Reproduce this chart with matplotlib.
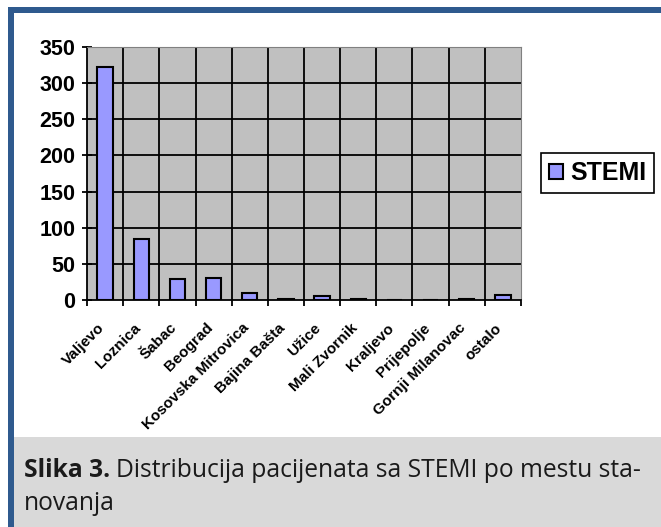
import matplotlib
matplotlib.use("Agg")
import matplotlib.pyplot as plt
from matplotlib.patches import Rectangle
from matplotlib.transforms import ScaledTranslation
import numpy as np

# data
mesta = ['Valjevo', 'Loznica', 'Šabac', 'Beograd', 'Kosovska Mitrovica', 'Bajina Bašta',
         'Užice', 'Mali Zvornik', 'Kraljevo', 'Prijepolje', 'Gornji Milanovac', 'ostalo']
stemi = [322, 84, 29, 31, 10, 2, 5, 2, 0, 0, 2, 7]
yTicks = [0, 50, 100, 150, 200, 250, 300, 350]

W, H = 661, 527
fig = plt.figure(figsize=(W / 100, H / 100), dpi=100)

# frame and caption area
blue = '#2F5A8E'
fig.patches.append(Rectangle((14 / W, 0), 1, 90 / H, transform=fig.transFigure,
                             facecolor='#D9D9D9', edgecolor='none', zorder=0))
fig.patches.append(Rectangle((8 / W, 1 - 13 / H), 1, 6 / H, transform=fig.transFigure,
                             facecolor=blue, edgecolor='none', zorder=1))
fig.patches.append(Rectangle((8 / W, 0), 6 / W, 1 - 7 / H, transform=fig.transFigure,
                             facecolor=blue, edgecolor='none', zorder=1))

ax = fig.add_axes([87 / W, 1 - 300 / H, 434 / W, 253 / H])
ax.set_facecolor('#C0C0C0')
x = np.arange(len(mesta))
ax.bar(x, stemi, width=0.42, color='#9999FF', edgecolor='black', linewidth=1.5,
       zorder=3, label='STEMI')
ax.set_xlim(-0.5, len(mesta) - 0.5)
ax.set_ylim(0, 350)

# grid lines at category boundaries and every 50
for b in np.arange(0.5, len(mesta) - 0.5):
    ax.axvline(b, color='black', linewidth=1.3, zorder=1)
for yv in yTicks[1:]:
    ax.axhline(yv, color='black', linewidth=1.3, zorder=1)

ax.set_yticks(yTicks)
ax.set_yticklabels([str(v) for v in yTicks], fontsize=15.5, fontweight='bold',
                   family='Liberation Sans')
ax.tick_params(axis='y', length=7, width=1.3, direction='inout', pad=5)
ax.set_xticks(np.arange(-0.5, len(mesta)), minor=False)
ax.set_xticklabels([])
ax.tick_params(axis='x', length=4, width=1.3)
ax.set_xticks(x, minor=True)
ax.set_xticklabels(mesta, minor=True, rotation=45, ha='right', rotation_mode='anchor',
                   fontsize=11, fontweight='bold', family='Liberation Sans')
ax.tick_params(axis='x', which='minor', length=0, pad=15)
shift = ScaledTranslation(-8 / 100, 0, fig.dpi_scale_trans)
for lab in ax.get_xticklabels(minor=True):
    lab.set_transform(lab.get_transform() + shift)

for s in ['top', 'right']:
    ax.spines[s].set_color('#808080')
ax.spines['left'].set_linewidth(1.3)
ax.spines['bottom'].set_linewidth(1.3)

leg = fig.legend(loc='center left', bbox_to_anchor=(541 / W, 1 - 173 / H),
                 prop={'family': 'Liberation Sans', 'weight': 'bold', 'size': 18},
                 fancybox=False, edgecolor='black', framealpha=1,
                 handlelength=0.55, handleheight=0.55, handletextpad=0.3,
                 borderpad=0.32, borderaxespad=0)
leg.get_frame().set_linewidth(1.2)

capColor = '#1A1A1A'
cap1 = fig.text(24 / W, 1 - 477 / H, 'Slika 3.', fontsize=17.7, family='Open Sans',
                fontweight='bold', va='baseline', ha='left', color=capColor)
fig.canvas.draw()
bb = cap1.get_window_extent()
fig.text(bb.x1 / W + 6 / W, 1 - 477 / H, 'Distribucija pacijenata sa STEMI po mestu sta-',
         fontsize=17.7, family='Open Sans', va='baseline', ha='left', color=capColor)
fig.text(24 / W, 1 - 510 / H, 'novanja', fontsize=17.7, family='Open Sans',
         va='baseline', ha='left', color=capColor)

fig.savefig('out.png', dpi=100)
